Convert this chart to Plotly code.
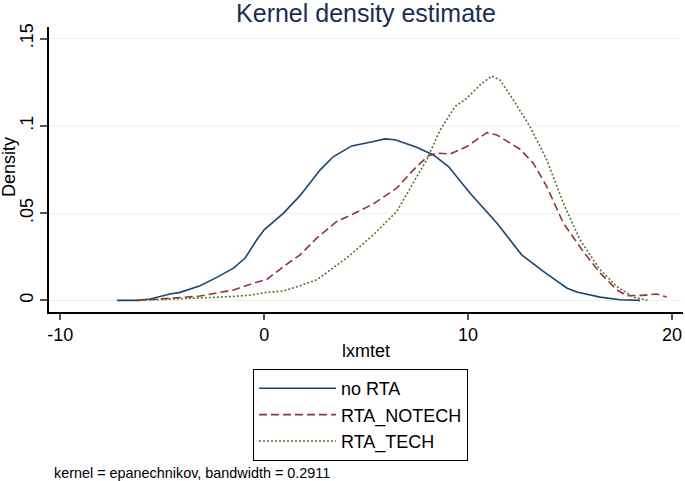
import plotly.graph_objects as go

# ---- data ----
norta_x = [-7.22, -6.24, -5.59, -4.61, -4.12, -3.14, -2.32, -1.50, -0.93, -0.36, 0.0, 0.95, 1.76,
           2.75, 3.40, 4.30, 5.36, 5.93, 6.42, 7.48, 8.30, 9.04, 10.10, 11.41, 12.63, 13.69,
           14.84, 15.33, 16.47, 17.45, 18.43]
norta_y = [0.0, 0.0, 0.0008, 0.0037, 0.0046, 0.0084, 0.0132, 0.0185, 0.0243, 0.0347, 0.0404, 0.050,
           0.060, 0.0748, 0.0824, 0.0885, 0.091, 0.0925, 0.092, 0.0877, 0.0833, 0.0767, 0.0614,
           0.0443, 0.0261, 0.0166, 0.0071, 0.0048, 0.0019, 0.0004, 0.0]

notech_x = [-6.24, -5.59, -4.61, -3.14, -1.50, -0.52, 0.13, 0.95, 1.76, 2.58, 3.56, 4.38, 5.36,
            6.50, 7.32, 8.05, 8.47, 9.12, 9.94, 10.92, 11.41, 12.55, 13.20, 13.86, 14.67, 15.65,
            16.47, 17.29, 17.78, 18.59, 19.25, 19.74]
notech_y = [0.0, 0.0004, 0.0012, 0.0025, 0.006, 0.0099, 0.012, 0.0194, 0.0261, 0.0357, 0.0452,
            0.0496, 0.0553, 0.0643, 0.0748, 0.0828, 0.0843, 0.0839, 0.0881, 0.0961, 0.0948,
            0.0866, 0.0786, 0.0652, 0.0443, 0.028, 0.0157, 0.0061, 0.0027, 0.0029, 0.0037, 0.0019]

tech_x = [-6.24, -4.61, -3.14, -1.50, -0.69, 0.13, 0.95, 1.76, 2.58, 4.05, 5.36, 6.50, 7.32, 7.97,
          8.63, 9.36, 9.94, 10.59, 11.16, 11.57, 12.22, 13.04, 13.86, 14.67, 15.49, 16.47, 17.29,
          18.10, 18.84]
tech_y = [0.0, 0.0006, 0.0014, 0.0023, 0.003, 0.0046, 0.0054, 0.0084, 0.0118, 0.0243, 0.0376,
          0.0509, 0.0672, 0.0805, 0.0976, 0.111, 0.1158, 0.1234, 0.1285, 0.1262, 0.1148, 0.0995,
          0.0805, 0.0557, 0.0347, 0.0176, 0.008, 0.0019, 0.0]

series_names = ["no RTA", "RTA_NOTECH", "RTA_TECH"]
x_ticks = [-10, 0, 10, 20]
x_tick_text = ["-10", "0", "10", "20"]
y_ticks = [0, 0.05, 0.1, 0.15]
y_tick_text = ["0", ".05", ".1", ".15"]

FONT = "Liberation Sans, Arial, Helvetica, sans-serif"
W, H = 685, 481
ML, MR, MT, MB = 49, 2, 27, 169
PW, PH = W - ML - MR, H - MT - MB


def px_x(p):
    return (p - ML) / PW


def px_y(p):
    return (H - MB - p) / PH


fig = go.Figure()
fig.add_trace(go.Scatter(x=norta_x, y=norta_y, mode="lines", name=series_names[0],
                         line=dict(color="#1a476f", width=1.6)))
fig.add_trace(go.Scatter(x=notech_x, y=notech_y, mode="lines", name=series_names[1],
                         line=dict(color="#90353b", width=1.6, dash="8px,4px")))
fig.add_trace(go.Scatter(x=tech_x, y=tech_y, mode="lines", name=series_names[2],
                         line=dict(color="#55752f", width=1.6, dash="2px,2px")))

fig.update_layout(
    width=W, height=H,
    paper_bgcolor="white", plot_bgcolor="white",
    margin=dict(l=ML, r=MR, t=MT, b=MB, autoexpand=False),
    font=dict(family=FONT, color="black", size=18),
    title=dict(text="Kernel density estimate", x=0.5, xref="paper", xanchor="center",
               y=1 - 13.5 / H, yref="container", yanchor="middle",
               font=dict(family=FONT, size=25, color="#1c2d52")),
    showlegend=True,
    legend=dict(x=px_x(253), y=px_y(369), xanchor="left", yanchor="top",
                bordercolor="black", borderwidth=1, bgcolor="white",
                font=dict(family=FONT, size=18, color="black"),
                itemwidth=77, tracegroupgap=0),
    annotations=[
        dict(text="kernel = epanechnikov, bandwidth = 0.2911", xref="paper", yref="paper",
             x=px_x(52), y=px_y(473), xanchor="left", yanchor="middle",
             showarrow=False, font=dict(family=FONT, size=14.4, color="black")),
        dict(text="Density", xref="paper", yref="paper", x=px_x(9), y=px_y(167),
             xanchor="center", yanchor="middle", textangle=-90, showarrow=False,
             font=dict(family=FONT, size=18, color="black")),
        dict(text="lxmtet", xref="paper", yref="paper", x=0.5, y=px_y(351),
             xanchor="center", yanchor="middle", showarrow=False,
             font=dict(family=FONT, size=18, color="black")),
    ],
)

fig.update_xaxes(range=[-10.55, 20.54], tickvals=x_ticks, ticktext=x_tick_text, ticks="outside",
                 ticklen=6, tickcolor="#555555", tickwidth=1.5, showline=True, linecolor="black",
                 linewidth=1.5, showgrid=False, zeroline=False, automargin=False,
                 tickfont=dict(size=18))
fig.update_yaxes(range=[-0.00664, 0.1566], tickvals=y_ticks, ticktext=y_tick_text, tickangle=-90,
                 ticks="outside", ticklen=7, tickcolor="#555555", tickwidth=1.5,
                 showline=True, linecolor="black", linewidth=1.5, automargin=False,
                 showgrid=True, gridcolor="#eaf2f3", gridwidth=1.2, zeroline=False,
                 tickfont=dict(size=18))

fig.write_html("out.html", config={"displayModeBar": False},
               post_script="document.body.style.margin='0';document.body.style.padding='0';")
